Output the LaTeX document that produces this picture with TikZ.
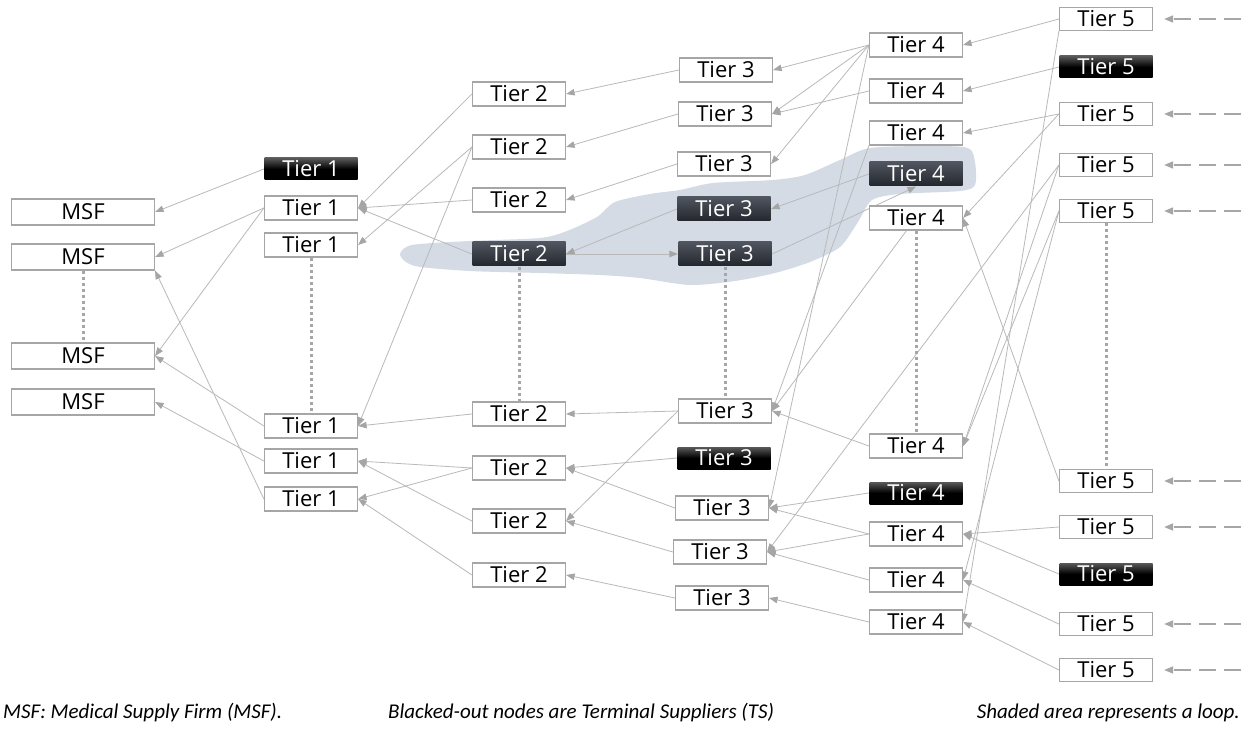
\documentclass[tikz,border=0pt]{standalone}
\usepackage{fontspec}
\setmainfont{Open Sans}
\newfontfamily\legendfont{Carlito}
\usetikzlibrary{arrows.meta,calc}
\definecolor{boxgray}{RGB}{166,166,166}
\definecolor{linegray}{RGB}{185,185,185}
\definecolor{tipgray}{RGB}{165,165,165}
\definecolor{loopfill}{RGB}{212,219,228}
\definecolor{darktop}{RGB}{80,85,95}
\definecolor{darkbot}{RGB}{35,38,45}
\pgfdeclarelayer{back}
\pgfdeclarelayer{edges}
\pgfsetlayers{back,edges,main}
\begin{document}
\begin{tikzpicture}[x=1pt,y=-1pt,
  tbox/.style={draw=boxgray,line width=1.2pt,fill=white,minimum width=93pt,minimum height=24pt,inner sep=0pt,font=\fontsize{22}{22}\selectfont},
  msfbox/.style={tbox,minimum width=143pt,minimum height=26pt},
  loopbox/.style={tbox,draw=none,top color=darktop,bottom color=darkbot,text=white},
  tsbox/.style={tbox,draw=none,top color=black!65,bottom color=black,middle color=black,text=white,minimum height=22pt},
  edge/.style={draw=linegray,line width=0.8pt,-{Triangle[length=8.5pt,width=6.5pt,color=tipgray,fill=tipgray]}},
  dots/.style={draw=boxgray,line width=3pt,dash pattern=on 3pt off 3pt},
  dasharrow/.style={draw=boxgray,line width=1.6pt,dash pattern=on 17pt off 8pt,-{Triangle[length=9pt,width=7pt,color=boxgray,fill=boxgray]}},
  legend/.style={font=\legendfont\itshape\fontsize{21}{21}\selectfont,inner sep=0pt}
]
\useasboundingbox (0,0) rectangle (1243,743);

\begin{pgfonlayer}{back}
\fill[white] (0,0) rectangle (1243,743);
\fill[loopfill] plot[smooth cycle,tension=0.45] coordinates {
 (400,255) (412,245) (470,241) (540,238) (567,231) (597,217) (615,202) (650,194) (680,190) (713,183) (773,180) (805,175) (840,160) (870,148) (930,146) (968,148) (975,162) (975,185) (960,191) (900,194) (872,200) (858,222) (840,247) (810,262) (775,273) (735,281) (690,285) (640,278) (600,275) (540,273) (470,271) (415,266)};
\end{pgfonlayer}

% MSF
\node[msfbox] (M1) at (83,212) {MSF};
\node[msfbox] (M2) at (83,257) {MSF};
\node[msfbox] (M3) at (83,356) {MSF};
\node[msfbox] (M4) at (83,402) {MSF};
% Tier 1
\node[tsbox] (T1k) at (311,169) {Tier 1};
\node[tbox] (T1a) at (311,208) {Tier 1};
\node[tbox] (T1b) at (311,245) {Tier 1};
\node[tbox] (T1c) at (311,426) {Tier 1};
\node[tbox] (T1d) at (311,461) {Tier 1};
\node[tbox] (T1e) at (311,499) {Tier 1};
% Tier 2
\node[tbox] (T2a) at (519,94) {Tier 2};
\node[tbox] (T2b) at (519,147) {Tier 2};
\node[tbox] (T2c) at (519,200) {Tier 2};
\node[loopbox] (T2L) at (519,254) {Tier 2};
\node[tbox] (T2d) at (519,414) {Tier 2};
\node[tbox] (T2e) at (519,468) {Tier 2};
\node[tbox] (T2f) at (519,521) {Tier 2};
\node[tbox] (T2g) at (519,575) {Tier 2};
% Tier 3
\node[tbox] (T3a) at (726,70) {Tier 3};
\node[tbox] (T3b) at (725,114) {Tier 3};
\node[tbox] (T3c) at (724,164) {Tier 3};
\node[loopbox] (T3La) at (724,209) {Tier 3};
\node[loopbox] (T3Lb) at (725,254) {Tier 3};
\node[tbox] (T3d) at (725,411) {Tier 3};
\node[tsbox] (T3k) at (724,458) {Tier 3};
\node[tbox] (T3e) at (722,508) {Tier 3};
\node[tbox] (T3f) at (720,552) {Tier 3};
\node[tbox] (T3g) at (722,598) {Tier 3};
% Tier 4
\node[tbox] (T4a) at (916,45) {Tier 4};
\node[tbox] (T4b) at (916,91) {Tier 4};
\node[tbox] (T4c) at (916,133) {Tier 4};
\node[loopbox] (T4L) at (916,174) {Tier 4};
\node[tbox] (T4d) at (916,218) {Tier 4};
\node[tbox] (T4e) at (916,446) {Tier 4};
\node[tsbox] (T4k) at (916,493) {Tier 4};
\node[tbox] (T4f) at (916,534) {Tier 4};
\node[tbox] (T4g) at (916,580) {Tier 4};
\node[tbox] (T4h) at (916,622) {Tier 4};
% Tier 5
\node[tbox,minimum height=23pt] (T5a) at (1106,19) {Tier 5};
\node[tsbox] (T5ka) at (1106,67) {Tier 5};
\node[tbox,minimum height=23pt] (T5b) at (1106,114) {Tier 5};
\node[tbox,minimum height=23pt] (T5c) at (1106,165) {Tier 5};
\node[tbox,minimum height=23pt] (T5d) at (1106,211) {Tier 5};
\node[tbox,minimum height=23pt] (T5e) at (1106,481) {Tier 5};
\node[tbox,minimum height=23pt] (T5f) at (1106,527) {Tier 5};
\node[tsbox] (T5kb) at (1106,574) {Tier 5};
\node[tbox,minimum height=23pt] (T5g) at (1106,624) {Tier 5};
\node[tbox,minimum height=23pt] (T5h) at (1106,670) {Tier 5};

\begin{pgfonlayer}{edges}
% Tier 1 -> MSF
\draw[edge] (T1k.west) -- (M1.east);
\draw[edge] (T1a.west) -- (M2.east);
\draw[edge] (T1a.west) -- (M3.east);
\draw[edge] (T1c.west) -- (M3.east);
\draw[edge] (T1d.west) -- (M4.east);
\draw[edge] (T1e.west) -- (M2.south east);
% Tier 2 -> Tier 1
\draw[edge] (T2a.west) -- (T1a.east);
\draw[edge] (T2b.west) -- (T1b.east);
\draw[edge] (T2b.west) -- (T1c.east);
\draw[edge] (T2c.west) -- (T1a.east);
\draw[edge] (T2L.west) -- (T1a.east);
\draw[edge] (T2d.west) -- (T1c.east);
\draw[edge] (T2e.west) -- (T1d.east);
\draw[edge] (T2f.west) -- (T1d.east);
\draw[edge] (T2e.west) -- (T1e.east);
\draw[edge] (T2g.west) -- (T1e.east);
% Tier 3 -> Tier 2
\draw[edge] (T3a.west) -- (T2a.east);
\draw[edge] (T3b.west) -- (T2b.east);
\draw[edge] (T3c.west) -- (T2c.east);
\draw[edge] (T3La.west) -- (T2L.east);
\draw[edge] (T2L.east) -- (T3Lb.west);
\draw[edge] (T3d.west) -- (T2d.east);
\draw[edge] (T3d.west) -- (T2f.east);
\draw[edge] (T3k.west) -- (T2e.east);
\draw[edge] (T3e.west) -- (T2e.east);
\draw[edge] (T3f.west) -- (T2f.east);
\draw[edge] (T3g.west) -- (T2g.east);
% Tier 4 -> Tier 3
\draw[edge] (T4a.west) -- (T3a.east);
\draw[edge] (T4a.west) -- (T3b.east);
\draw[edge] (T4a.west) -- (T3c.east);
\draw[edge] (T4a.west) -- (T3e.east);
\draw[edge] (T4c.south west) -- (T3d.east);
\draw[edge] (T4b.west) -- (T3b.east);
\draw[edge] (T4L.west) -- (T3La.east);
\draw[edge] (T3Lb.east) -- (T4L.south);
\draw[edge] ($(T4d.south west)!0.4!(T4d.south east)$) -- (T3d.east);
\draw[edge] (T4e.west) -- (T3d.east);
\draw[edge] (T4k.west) -- (T3e.east);
\draw[edge] (T4f.west) -- (T3e.east);
\draw[edge] (T4f.west) -- (T3f.east);
\draw[edge] (T4g.west) -- (T3f.east);
\draw[edge] (T4h.west) -- (T3g.east);
% Tier 5 -> Tier 4 / Tier 3
\draw[edge] (T5a.west) -- (T4a.east);
\draw[edge] (T5a.south west) -- (T4h.east);
\draw[edge] (T5ka.west) -- (T4b.east);
\draw[edge] (T5b.west) -- (T4c.east);
\draw[edge] (T5b.west) -- (T4d.east);
\draw[edge] (T5c.west) -- (T3f.east);
\draw[edge] (T5c.west) -- (T4e.east);
\draw[edge] (T5d.west) -- (T4e.east);
\draw[edge] (T5d.west) -- (T4g.east);
\draw[edge] (T5e.west) -- (T4d.east);
\draw[edge] (T5f.west) -- (T4f.east);
\draw[edge] (T5kb.west) -- (T4f.east);
\draw[edge] (T5g.west) -- (T4g.east);
\draw[edge] (T5h.west) -- (T4h.east);
% dotted continuations
\draw[dots] (M2.south) -- (M3.north);
\draw[dots] (T1b.south) -- (T1c.north);
\draw[dots] (T2L.south) -- (T2d.north);
\draw[dots] (T3Lb.south) -- (T3d.north);
\draw[dots] (T4d.south) -- (T4e.north);
\draw[dots] (T5d.south) -- (T5e.north);
\end{pgfonlayer}

% incoming dashed arrows
\coordinate (dA) at (1241,19);
\coordinate (dB) at (1241,114);
\coordinate (dC) at (1241,165);
\coordinate (dD) at (1241,211);
\coordinate (dE) at (1241,481);
\coordinate (dF) at (1241,527);
\coordinate (dG) at (1241,624);
\coordinate (dH) at (1241,670);
\draw[dasharrow] (dA) -- ([xshift=11pt]T5a.east);
\draw[dasharrow] (dB) -- ([xshift=11pt]T5b.east);
\draw[dasharrow] (dC) -- ([xshift=11pt]T5c.east);
\draw[dasharrow] (dD) -- ([xshift=11pt]T5d.east);
\draw[dasharrow] (dE) -- ([xshift=11pt]T5e.east);
\draw[dasharrow] (dF) -- ([xshift=11pt]T5f.east);
\draw[dasharrow] (dG) -- ([xshift=11pt]T5g.east);
\draw[dasharrow] (dH) -- ([xshift=11pt]T5h.east);

% legend
\node[legend,anchor=west] (L1) at (3,713) {MSF: Medical Supply Firm (MSF).};
\node[legend,anchor=west] (L2) at (388,713) {Blacked-out nodes are Terminal Suppliers (TS)};
\node[legend,anchor=east] (L3) at (1240,713) {Shaded area represents a loop.};
\end{tikzpicture}
\end{document}
